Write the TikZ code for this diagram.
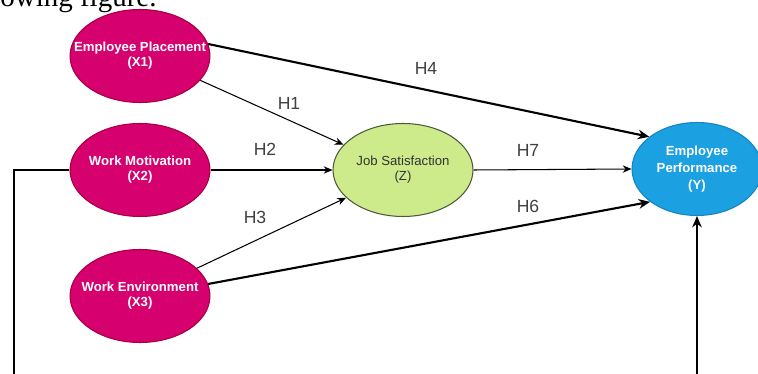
\documentclass[tikz,border=0pt]{standalone}
\usepackage{fontspec}
\setmainfont{Liberation Serif}
\setsansfont{Liberation Sans}
\usetikzlibrary{arrows.meta,shapes.geometric}

\definecolor{magfill}{HTML}{D6006F}
\definecolor{magline}{HTML}{A50040}
\definecolor{greenfill}{HTML}{CDEB8B}
\definecolor{greenline}{HTML}{4D5A3A}
\definecolor{bluefill}{HTML}{1BA1E2}
\definecolor{blueline}{HTML}{1583C0}

\begin{document}
\begin{tikzpicture}[x=0.02cm, y=-0.02cm,
  latent/.style={ellipse, draw, line width=0.6pt, minimum width=2.8cm,
    minimum height=1.86cm, inner xsep=-12pt, inner ysep=0pt, align=center},
  indep/.style={latent, fill=magfill, draw=magline, text=white,
    font=\sffamily\bfseries\fontsize{7.5}{8.5}\selectfont},
  hyp/.style={-{Stealth[length=5pt,width=4.2pt]}, line width=0.6pt},
  hypbold/.style={-{Stealth[length=6.5pt,width=5.5pt]}, line width=1.2pt},
  hlabel/.style={font=\sffamily\fontsize{10}{12}\selectfont, text=black!75}]

  \useasboundingbox (0,0) rectangle (758,374);
  \clip (0,0) rectangle (758,374);
  \fill[white] (0,0) rectangle (758,374);

  \node[anchor=base west, inner sep=0, font=\fontsize{16.5}{18}\selectfont]
    (caption) at (0,7) {owing figure.};

  % exogenous variables
  \node[indep] (X1) at (140,56) {Employee Placement\\(X1)};
  \node[indep] (X2) at (140,170) {Work Motivation\\(X2)};
  \node[indep] (X3) at (140,296) {Work Environment\\(X3)};

  % mediator and outcome
  \node[latent, fill=greenfill, draw=greenline, text=black!80,
    font=\sffamily\fontsize{7.5}{8.5}\selectfont] (Z) at (403,170)
    {Job Satisfaction\\(Z)};
  \node[latent, fill=bluefill, draw=blueline, text=white, minimum width=2.6cm,
    font=\sffamily\bfseries\fontsize{7.5}{9.5}\selectfont] (Y) at (697,169)
    {Employee\\Performance\\(Y)};

  \draw[hyp] (X1.-22) -- (Z.157);
  \draw[hyp] (X2.east) -- (Z.west);
  \draw[hyp] (X3.26) -- (Z.206);
  \draw[hyp] (Z.east) -- (Y.west);
  \draw[hypbold] (X1.10) -- (Y.146);
  \draw[hypbold] (X3.10) -- (Y.215);

  \coordinate (loop) at (14,392);
  \draw[hypbold, line width=1pt] (X2.west) -| (loop) -| (Y.south);

  \foreach \h/\x/\y in {H1/289/103, H2/265/149, H3/255/217,
                        H4/426/68, H6/528/206, H7/528/150}{
    \node[hlabel] (\h) at (\x,\y) {\h};
  }
\end{tikzpicture}
\end{document}
